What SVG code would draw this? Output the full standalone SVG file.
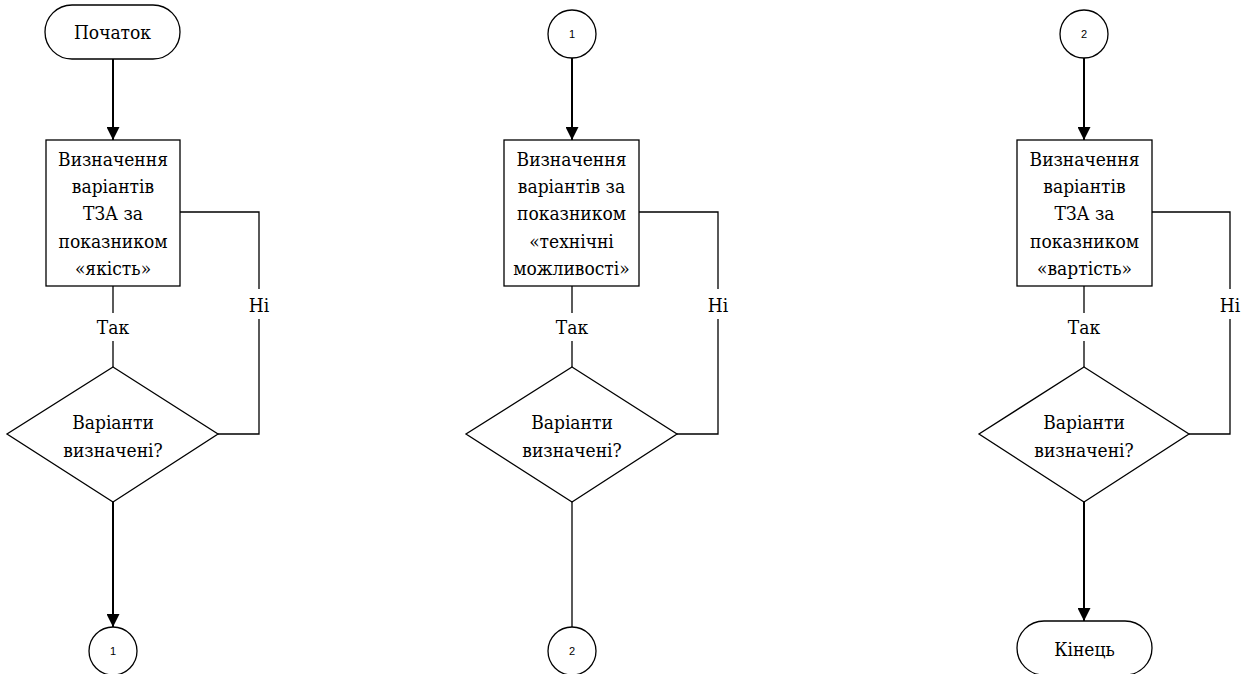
<svg xmlns="http://www.w3.org/2000/svg" width="1245" height="674" viewBox="0 0 1245 674">
<style>
.s{fill:#fff;stroke:#000;stroke-width:1.3}
.t{font-family:'DejaVu Serif Condensed','DejaVu Serif',serif;font-stretch:condensed;font-size:19px;fill:#000;text-anchor:middle}
.n{font-family:'Liberation Sans','DejaVu Sans',sans-serif;font-size:11px;fill:#000;text-anchor:middle}
.c{fill:none;stroke:#000;stroke-width:1.3}
.a{fill:none;stroke:#000;stroke-width:2}
</style>
<defs>
<marker id="ah" markerWidth="13" markerHeight="13" refX="13" refY="6.5" orient="auto" markerUnits="userSpaceOnUse">
<path d="M0,0 L13,6.5 L0,13 Z" fill="#000"/>
</marker>
</defs>
<g id="connectors">
<line class="a" x1="113" y1="59" x2="113" y2="140" marker-end="url(#ah)"/>
<polyline class="c" points="113,286 113,313"/>
<polyline class="c" points="113,341 113,367"/>
<polyline class="c" points="180,212 259,212 259,289"/>
<polyline class="c" points="259,319 259,434 218,434"/>
<line class="a" x1="113" y1="502" x2="113" y2="627" marker-end="url(#ah)"/>
<line class="a" x1="572" y1="58" x2="572" y2="140" marker-end="url(#ah)"/>
<polyline class="c" points="572,286 572,313"/>
<polyline class="c" points="572,341 572,367"/>
<polyline class="c" points="639,212 718,212 718,289"/>
<polyline class="c" points="718,319 718,434 677,434"/>
<line class="c" x1="572" y1="502" x2="572" y2="627"/>
<line class="a" x1="1084" y1="58" x2="1084" y2="140" marker-end="url(#ah)"/>
<polyline class="c" points="1084,286 1084,313"/>
<polyline class="c" points="1084,341 1084,367"/>
<polyline class="c" points="1152,212 1230,212 1230,289"/>
<polyline class="c" points="1230,319 1230,434 1189,434"/>
<line class="a" x1="1084" y1="502" x2="1084" y2="621" marker-end="url(#ah)"/>
<text class="t" x="113" y="334">Так</text>
<text class="t" x="259" y="312">Ні</text>
<text class="t" x="572" y="334">Так</text>
<text class="t" x="718" y="312">Ні</text>
<text class="t" x="1084" y="334">Так</text>
<text class="t" x="1230" y="312">Ні</text>
</g>
<g id="start">
<rect class="s" x="45" y="5" width="135" height="54" rx="27"/>
<text class="t" x="112.5" y="39">Початок</text>
</g>
<g id="box1">
<rect class="s" x="46" y="140" width="134" height="146"/>
<text class="t" x="113" y="166">Визначення</text>
<text class="t" x="113" y="193">варіантів</text>
<text class="t" x="113" y="220">ТЗА за</text>
<text class="t" x="113" y="248">показником</text>
<text class="t" x="113" y="275">«якість»</text>
</g>
<g id="dec1">
<polygon class="s" points="113,367 218,434 113,502 7,434"/>
<text class="t" x="113" y="429">Варіанти</text>
<text class="t" x="113" y="457">визначені?</text>
</g>
<g id="conn1out">
<circle class="s" cx="113" cy="651" r="24"/>
<text class="n" x="113" y="655">1</text>
</g>
<g id="conn1in">
<circle class="s" cx="572" cy="34" r="24"/>
<text class="n" x="572" y="38">1</text>
</g>
<g id="box2">
<rect class="s" x="504" y="140" width="135" height="146"/>
<text class="t" x="571.5" y="166">Визначення</text>
<text class="t" x="571.5" y="193">варіантів за</text>
<text class="t" x="571.5" y="220">показником</text>
<text class="t" x="571.5" y="248">«технічні</text>
<text class="t" x="571.5" y="275">можливості»</text>
</g>
<g id="dec2">
<polygon class="s" points="572,367 677,434 572,502 466,434"/>
<text class="t" x="572" y="429">Варіанти</text>
<text class="t" x="572" y="457">визначені?</text>
</g>
<g id="conn2out">
<circle class="s" cx="572" cy="651" r="24"/>
<text class="n" x="572" y="655">2</text>
</g>
<g id="conn2in">
<circle class="s" cx="1084" cy="34" r="24"/>
<text class="n" x="1084" y="38">2</text>
</g>
<g id="box3">
<rect class="s" x="1017" y="140" width="135" height="146"/>
<text class="t" x="1084.5" y="166">Визначення</text>
<text class="t" x="1084.5" y="193">варіантів</text>
<text class="t" x="1084.5" y="220">ТЗА за</text>
<text class="t" x="1084.5" y="248">показником</text>
<text class="t" x="1084.5" y="275">«вартість»</text>
</g>
<g id="dec3">
<polygon class="s" points="1084,367 1189,434 1084,502 979,434"/>
<text class="t" x="1084" y="429">Варіанти</text>
<text class="t" x="1084" y="457">визначені?</text>
</g>
<g id="end">
<rect class="s" x="1017" y="621" width="135" height="54" rx="27"/>
<text class="t" x="1084.5" y="656">Кінець</text>
</g>
</svg>
